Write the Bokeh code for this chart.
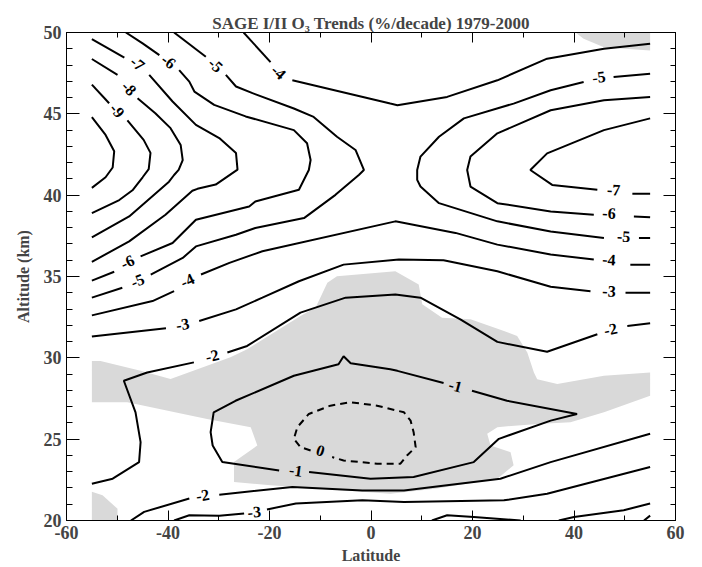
import math
from bokeh.plotting import figure
from bokeh.models import FixedTicker, LinearAxis, Range1d
from bokeh.embed import file_html
from bokeh.resources import INLINE
from bokeh.core.properties import value

# ---------------- data (latitude in deg, altitude in km) ----------------
x_ticks = [-60, -40, -20, 0, 20, 40, 60]
x_minor = [-50, -30, -10, 10, 30, 50]
y_ticks = [20, 25, 30, 35, 40, 45, 50]
y_minor = [a for a in range(21, 50) if a % 5 != 0]

# significance shading (grey)
grey_top_lat = [40.3, 41.9, 45.9, 55, 55]
grey_top_alt = [50, 49.61, 49.1, 48.9, 50]

grey_mid_lat = [-55, -53.3, -45.4, -39.5, -34.2, -27.7, -24.4, -13.9, -10.9, -8.6, -6.7, 4.8, 9.4, 10.1,
                14.0, 19.6, 26.2, 28.8, 30.8, 32.1, 32.75, 36.7, 45.9, 55, 55, 45.9, 39.3, 32.75, 24.9,
                22.9, 23.55, 27.5, 28.1, 24.9, 13.0, 3.8, -19.8, -27.0, -27.0, -22.4, -23.7, -32.3, -48.0, -55]
grey_mid_alt = [29.81, 29.81, 29.2, 28.7, 29.3, 30.04, 30.53, 32.57, 33.1, 34.61, 35.02, 35.32, 34.51, 33.29,
                32.47, 32.37, 31.65, 31.34, 30.33, 29.1, 28.69, 28.39, 28.9, 29.1, 27.67, 26.65, 26.04, 25.94, 25.74,
                25.33, 24.61, 24.2, 23.39, 22.57, 21.96, 21.65, 22.16, 22.37, 23.59, 24.61, 25.74, 26.24, 27.27, 27.27]

grey_low_lat = [-55, -52.9, -49.95, -49.95, -55]
grey_low_alt = [21.76, 21.55, 20.73, 20.0, 20.0]

# contour pieces (solid), grouped by level; labels sit in the gaps
m10_lat = [-55, -52.3, -50.6, -50.9, -52.3, -55]
m10_alt = [44.8, 43.7, 42.7, 41.7, 41.1, 40.45]

m9a_lat = [-55, -51.6]
m9a_alt = [46.8, 45.65]
m9b_lat = [-48.0, -44.8, -43.45, -43.8, -45.0, -47.0, -49.6, -55]
m9b_alt = [44.6, 43.4, 42.6, 41.6, 41.1, 40.3, 39.7, 38.9]

m8a_lat = [-55, -49.95]
m8a_alt = [48.37, 47.39]
m8b_lat = [-46.0, -42.5, -39.5, -37.5, -37.1, -37.9, -38.8, -39.8, -47.65, -55]
m8b_alt = [45.96, 45.04, 44.12, 43.08, 42.16, 41.55, 41.24, 40.83, 38.69, 37.4]

m7a_lat = [-55, -48.6]
m7a_alt = [49.59, 48.45]
m7b_lat = [-43.7, -39.1, -34.5, -29.9, -26.6, -26.3, -30.6, -34.2, -35.2, -40.5, -47.65, -55]
m7b_alt = [47.39, 45.76, 44.32, 43.51, 42.59, 41.57, 40.65, 40.39, 40.27, 38.8, 37.16, 35.9]

m6a_lat = [-48.3, -45.0, -41.7]
m6a_alt = [50, 49.33, 48.61]
m6b_lat = [-37.8, -35.8, -34.8, -30.9, -24.7, -15.2, -12.6, -11.9, -12.25, -14.2, -22.8, -24.0, -34.5, -39.1, -45.4]
m6b_alt = [47.69, 46.98, 46.37, 45.55, 44.84, 44.0, 43.19, 42.16, 41.55, 40.33, 39.61, 39.3, 38.49, 37.06, 36.24]
m6c_lat = [-50.6, -55]
m6c_alt = [35.29, 34.75]

m5a_lat = [-38.8, -32.55]
m5a_alt = [50, 48.51]
m5b_lat = [-28.6, -26.6, -23.35, -15.2, -11.3, -6.7, -3.05, -1.4, -2.4, -7.0, -13.2, -22.8, -26.6, -34.5, -37.1, -43.4]
m5b_alt = [47.39, 46.68, 46.27, 45.33, 44.81, 43.59, 42.78, 41.55, 41.24, 40.02, 38.59, 37.98, 37.57, 36.85, 36.14, 35.12]
m5c_lat = [-49.0, -55]
m5c_alt = [34.31, 33.7]

m4a_lat = [-25.1, -19.8]
m4a_alt = [50, 48.18]
m4b_lat = [-15.5, 3.8, 5.2, 15.0, 24.9, 34.7, 45.9, 55]
m4b_alt = [47.06, 45.63, 45.53, 46.04, 47.06, 48.39, 49.0, 49.31]

r5a_lat = [55, 47.8]
r5a_alt = [47.47, 47.26]
r5b_lat = [41.9, 35.4, 28.1, 18.3, 13.4, 9.75, 9.1, 9.1, 9.75, 13.4, 24.9, 35.4, 45.9]
r5b_alt = [46.96, 46.45, 45.63, 44.72, 43.59, 42.37, 41.55, 40.94, 40.53, 39.51, 38.39, 37.77, 37.37]
r5c_lat = [52.8, 55]
r5c_alt = [37.37, 37.37]

r6a_lat = [55, 45.9, 35.4, 24.9, 19.6, 18.95, 19.6, 24.9, 35.4, 43.9]
r6a_alt = [46.04, 45.84, 45.22, 43.8, 42.37, 41.55, 40.53, 39.51, 39.0, 38.8]
r6b_lat = [51.8, 55]
r6b_alt = [38.69, 38.65]

r7a_lat = [55, 45.9, 34.7, 31.4, 35.7, 44.6]
r7a_alt = [44.72, 44.0, 42.57, 41.55, 40.63, 40.33]
r7b_lat = [51.5, 55]
r7b_alt = [40.08, 40.08]

l4a_lat = [-55, -43.05, -38.8]
l4a_alt = [32.61, 33.49, 34.1]
l4b_lat = [-33.5, -27.9, -21.4, 4.8, 16.65, 24.9, 35.4, 43.9]
l4b_alt = [35.12, 35.84, 36.55, 38.39, 37.68, 36.96, 36.35, 36.04]
l4c_lat = [51.1, 55]
l4c_alt = [35.73, 35.73]

l3a_lat = [-55, -40.4]
l3a_alt = [31.31, 31.82]
l3b_lat = [-33.85, -26.6, -21.4, -14.2, -5.4, 5.5, 14.3, 24.9, 35.4, 43.25]
l3b_alt = [32.26, 32.98, 33.7, 34.71, 35.73, 36.04, 36.0, 35.32, 34.37, 34.1]
l3c_lat = [50.15, 55]
l3c_alt = [34.0, 34.0]

l2a_lat = [-55, -50.9, -45.7, -45.4, -46.4, -48.7, -44.1, -34.9]
l2a_alt = [22.26, 22.57, 23.59, 24.82, 26.65, 28.59, 29.1, 29.72]
l2b_lat = [-28.3, -24.4, -13.9, -5.0, 4.8, 9.75, 17.6, 24.9, 34.7, 44.6]
l2b_alt = [30.33, 30.73, 32.78, 33.7, 33.9, 33.7, 32.37, 30.98, 30.37, 31.45]
l2c_lat = [50.5, 55]
l2c_alt = [31.96, 32.12]

l1a_lat = [-18.1, -29.3, -31.2, -31.6, -31.2, -31.0, -26.7, -15.2, -6.4, -5.4, -4.0, 3.8, 5.2, 14.3]
l1a_alt = [23.08, 23.59, 24.61, 25.43, 26.24, 26.65, 27.36, 28.9, 29.61, 30.1, 29.67, 29.3, 29.2, 28.45]
l1b_lat = [19.9, 26.8, 40.6, 35.4, 25.2, 20.25, 8.4, -0.1, -12.2]
l1b_alt = [27.98, 27.36, 26.55, 26.14, 25.02, 23.59, 22.67, 22.57, 22.98]

b2a_lat = [-47.3, -44.7, -35.8]
b2a_alt = [20, 20.53, 21.35]
b2b_lat = [-29.9, -15.5, -1.7, 6.5, 25.5, 35.4, 55]
b2b_alt = [21.59, 22.06, 21.85, 21.85, 22.57, 23.59, 25.33]

b3a_lat = [-38.8, -35.8, -29.9, -25.0]
b3a_alt = [20, 20.32, 20.29, 20.43]
b3b_lat = [-20.5, -14.8, -1.7, 6.5, 26.2, 34.7, 55]
b3b_alt = [20.68, 21.04, 21.24, 21.14, 21.24, 21.65, 23.29]

b4a_lat = [12.0, 15.0, 20.25, 29.5]
b4a_alt = [20.0, 20.32, 20.22, 20.0]
b4b_lat = [37.0, 40.0, 49.8, 55]
b4b_alt = [20.0, 20.22, 20.63, 21.04]

b5_lat = [53.8, 55]
b5_alt = [20.0, 20.3]

# zero contour (dashed)
z0_lat = [-11.9, -13.9, -15.2, -14.5, -12.25, -8.0, -4.0, 1.2, 6.5, 7.8, 8.4, 8.8, 7.1, 5.8, 1.2, -5.4, -7.65]
z0_alt = [24.3, 24.51, 25.02, 25.74, 26.55, 27.06, 27.27, 27.06, 26.65, 26.14, 25.43, 24.51, 24.0, 23.49, 23.49, 23.69, 23.9]

# contour labels
lab_text = ["-7", "-6", "-5", "-4", "-8", "-9", "-6", "-5", "-4", "-3", "-2",
            "-5", "-7", "-6", "-5", "-4", "-3", "-2", "-1", "-1", "0", "-2", "-3"]
lab_lat = [-46.0, -39.9, -30.6, -18.2, -47.65, -50.0, -48.0, -46.0, -36.2, -37.1, -31.3,
           44.9, 47.8, 46.9, 49.8, 46.9, 46.9, 47.2, 16.65, -14.8, -9.95, -33.2, -23.0]
lab_alt = [48.1, 48.22, 48.0, 47.57, 46.57, 45.2, 35.9, 34.75, 34.75, 32.06, 30.12,
           47.26, 40.33, 38.9, 37.47, 36.04, 34.1, 31.75, 28.28, 23.08, 24.3, 21.55, 20.53]
lab_angle_deg = [-38, -37, -42, -42, -45, -50, 25, 22, 25, 10, 14,
                 8, -3, -3, -3, -4, -3, 13, -15, -8, -18, 10, 5]

solid_lat = [m10_lat, m9a_lat, m9b_lat, m8a_lat, m8b_lat, m7a_lat, m7b_lat, m6a_lat, m6b_lat, m6c_lat,
             m5a_lat, m5b_lat, m5c_lat, m4a_lat, m4b_lat, r5a_lat, r5b_lat, r5c_lat, r6a_lat, r6b_lat,
             r7a_lat, r7b_lat, l4a_lat, l4b_lat, l4c_lat, l3a_lat, l3b_lat, l3c_lat, l2a_lat, l2b_lat,
             l2c_lat, l1a_lat, l1b_lat, b2a_lat, b2b_lat, b3a_lat, b3b_lat, b4a_lat, b4b_lat, b5_lat]
solid_alt = [m10_alt, m9a_alt, m9b_alt, m8a_alt, m8b_alt, m7a_alt, m7b_alt, m6a_alt, m6b_alt, m6c_alt,
             m5a_alt, m5b_alt, m5c_alt, m4a_alt, m4b_alt, r5a_alt, r5b_alt, r5c_alt, r6a_alt, r6b_alt,
             r7a_alt, r7b_alt, l4a_alt, l4b_alt, l4c_alt, l3a_alt, l3b_alt, l3c_alt, l2a_alt, l2b_alt,
             l2c_alt, l1a_alt, l1b_alt, b2a_alt, b2b_alt, b3a_alt, b3b_alt, b4a_alt, b4b_alt, b5_alt]

# ---------------- figure ----------------
SERIF = "Liberation Serif"

p = figure(width=700, height=566, x_range=Range1d(-60, 60), y_range=Range1d(20, 50),
           output_backend="svg", toolbar_location=None,
           min_border_left=66, min_border_right=25, min_border_top=32, min_border_bottom=44)
p.background_fill_color = "white"
p.border_fill_color = "white"
p.outline_line_color = "black"
p.outline_line_width = 1
p.xgrid.visible = False
p.ygrid.visible = False

p.title.text = "SAGE I/II O\u2083 Trends (%/decade) 1979-2000"
p.title.align = "center"
p.title.text_font = SERIF
p.title.text_font_style = "bold"
p.title.text_font_size = "17px"
p.title.standoff = 0

GREY = "#d9d9d9"
p.patch(grey_top_lat, grey_top_alt, fill_color=GREY, line_color=None)
p.patch(grey_mid_lat, grey_mid_alt, fill_color=GREY, line_color=None)
p.patch(grey_low_lat, grey_low_alt, fill_color=GREY, line_color=None)

p.multi_line(solid_lat, solid_alt, line_color="black", line_width=2)
p.line(z0_lat, z0_alt, line_color="black", line_width=2, line_dash="7 5")

p.text(x=lab_lat, y=lab_alt, text=lab_text, angle=[math.radians(a) for a in lab_angle_deg],
       text_font=value(SERIF), text_font_style="bold", text_font_size="16px",
       text_align="center", text_baseline="middle", text_color="black")

xt = FixedTicker(ticks=x_ticks, minor_ticks=x_minor)
yt = FixedTicker(ticks=y_ticks, minor_ticks=y_minor)


def style_axis(ax, ticker, ticks, major_in, minor_in, show_labels):
    ax.ticker = ticker
    ax.axis_line_color = "black"
    ax.major_tick_line_color = "black"
    ax.minor_tick_line_color = "black"
    ax.major_tick_in = major_in
    ax.major_tick_out = 0
    ax.minor_tick_in = minor_in
    ax.minor_tick_out = 0
    ax.major_label_text_font = SERIF
    ax.major_label_text_font_style = "bold"
    ax.axis_label_text_font = SERIF
    ax.axis_label_text_font_style = "bold"
    ax.axis_label_text_font_size = "16px"
    if show_labels:
        ax.major_label_text_font_size = "18px"
        ax.major_label_overrides = {t: str(t) for t in ticks}
    else:
        ax.major_label_text_font_size = "1px"
        ax.major_label_standoff = 0
        ax.major_label_overrides = {t: "" for t in ticks}


style_axis(p.xaxis[0], xt, x_ticks, 10, 5, True)
style_axis(p.yaxis[0], yt, y_ticks, 13, 6, True)
p.xaxis[0].axis_label = "Latitude"
p.yaxis[0].axis_label = "Altitude (km)"
p.xaxis[0].major_label_standoff = 5
p.yaxis[0].major_label_standoff = 5
p.xaxis[0].axis_label_standoff = 5
p.yaxis[0].axis_label_standoff = 9

top_ax = LinearAxis()
style_axis(top_ax, xt, x_ticks, 10, 5, False)
p.add_layout(top_ax, "above")
right_ax = LinearAxis()
style_axis(right_ax, yt, y_ticks, 12, 5, False)
p.add_layout(right_ax, "right")

open("out.html", "w").write(file_html(p, INLINE))
